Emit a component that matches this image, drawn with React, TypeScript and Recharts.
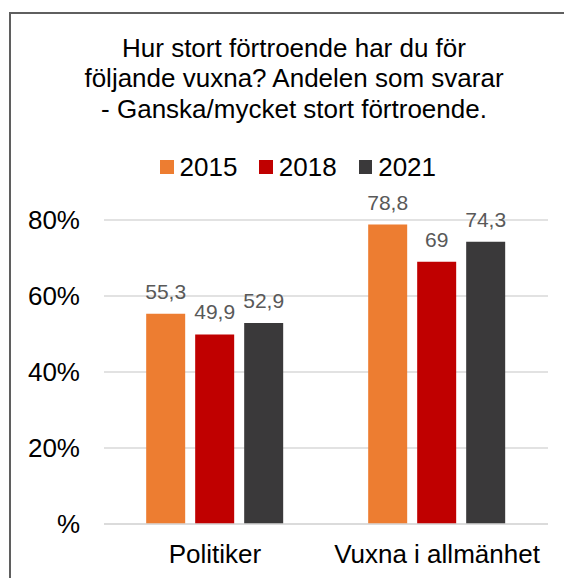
import React from "react";
import { BarChart, Bar, XAxis, YAxis, CartesianGrid, LabelList } from "recharts";

const categories = ["Politiker", "Vuxna i allmänhet"];
const values2015 = [55.3, 78.8];
const values2018 = [49.9, 69];
const values2021 = [52.9, 74.3];
const seriesNames = ["2015", "2018", "2021"];
const seriesColors = ["#ED7D31", "#C00000", "#3A393A"];
const yTicks = [0, 20, 40, 60, 80];
const titleLines = [
  "Hur stort förtroende har du för",
  "följande vuxna? Andelen som svarar",
  "- Ganska/mycket stort förtroende.",
];

const seriesValues = [values2015, values2018, values2021];
const data = categories.map((c, i) => {
  const row: Record<string, string | number> = { name: c };
  seriesNames.forEach((s, j) => {
    row[s] = seriesValues[j][i];
  });
  return row;
});

const FONT = "'Liberation Sans', Arial, sans-serif";

export default function App() {
  return (
    <div
      style={{
        position: "relative",
        width: 564,
        height: 570,
        overflow: "hidden",
        fontFamily: FONT,
        background: "#fff",
      }}
    >
      <div
        style={{
          position: "absolute",
          left: 1,
          top: 4,
          width: 700,
          height: 700,
          border: "2.5px solid #5f5f5f",
          boxSizing: "border-box",
        }}
      />
      <div style={{ position: "absolute", left: 0, top: 0 }}>
        <BarChart
          width={564}
          height={570}
          data={data}
          margin={{ top: 212, right: 24, left: 16, bottom: 14 }}
          barCategoryGap="19%"
          barGap={10}
        >
          <CartesianGrid horizontal vertical={false} stroke="#d9d9d9" strokeWidth={1.5} />
          <XAxis
            dataKey="name"
            height={40}
            axisLine={{ stroke: "#d9d9d9", strokeWidth: 1.5 }}
            tickLine={false}
            tickSize={6}
            tickMargin={15}
            tick={{ fill: "#000", fontSize: 26, fontFamily: FONT }}
          />
          <YAxis
            width={80}
            domain={[0, 80]}
            ticks={yTicks}
            axisLine={false}
            tickLine={false}
            tickSize={6}
            tickMargin={18}
            tickFormatter={(v: number) => (v === 0 ? "%" : `${v}%`)}
            tick={{ fill: "#000", fontSize: 26, fontFamily: FONT }}
          />
          {seriesNames.map((s, j) => (
            <Bar key={s} dataKey={s} fill={seriesColors[j]} isAnimationActive={false}>
              <LabelList
                dataKey={s}
                position="top"
                offset={15}
                fill="#595959"
                fontSize={21}
                fontFamily={FONT}
                formatter={(v: number) => String(v).replace(".", ",")}
              />
            </Bar>
          ))}
        </BarChart>
      </div>
      <div
        style={{
          position: "absolute",
          left: 0,
          width: 572,
          top: 25,
          textAlign: "center",
          fontSize: 26,
          lineHeight: "30.4px",
          color: "#000",
        }}
      >
        {titleLines.map((l) => (
          <div key={l}>{l}</div>
        ))}
      </div>
      <div
        style={{
          position: "absolute",
          left: 152,
          top: 144,
          display: "flex",
          alignItems: "center",
          fontSize: 26,
          lineHeight: "30px",
          color: "#000",
        }}
      >
        {seriesNames.map((s, j) => (
          <div key={s} style={{ display: "flex", alignItems: "center", marginRight: 22 }}>
            <span
              style={{
                display: "inline-block",
                width: 13.5,
                height: 13.5,
                background: seriesColors[j],
                marginRight: 6,
              }}
            />
            <span>{s}</span>
          </div>
        ))}
      </div>
    </div>
  );
}
